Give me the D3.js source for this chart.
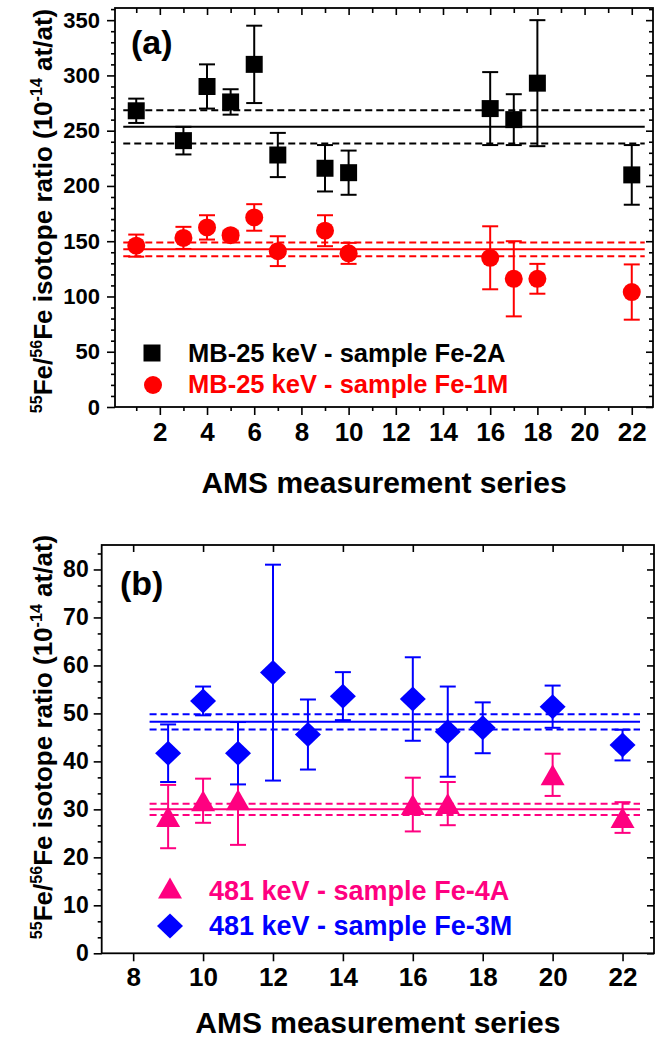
<!DOCTYPE html>
<html><head><meta charset="utf-8">
<script src="https://cdn.jsdelivr.net/npm/d3@7"></script>
<style>
body{margin:0;background:#fff}
svg{display:block}
text{font-family:"Liberation Sans",Arial,sans-serif;font-weight:bold}
</style>
</head><body>
<script>
// ---------- Data: panel (a) ----------
const seriesXA = [1,3,4,5,6,7,9,10,16,17,18,22];
const fe2A     = [268,241,290,276,310,228,216,212,270,260,293,210];
const fe2AErr  = [11,12.5,20,11.5,35,20,21,20,33,23,57,27];
const fe1M     = [146,153,162.5,155.5,171.5,141,159.5,139,135,116,116,104];
const fe1MErr  = [10,10,11,4,12,13.5,14,9.5,28.5,34,13.5,25];
const meanFe2A = [253.5, 15];     // mean, +/- band
const meanFe1M = [142.7, 6.2];
const meanSpanA = [0.45, 22.55];
const xTicksA = [2,4,6,8,10,12,14,16,18,20,22];
const yTicksA = [0,50,100,150,200,250,300,350];

// ---------- Data: panel (b) ----------
const seriesX3M = [9,10,11,12,13,14,16,17,18,20,22];
const fe3M      = [41.7,52.6,41.7,58.5,45.6,53.6,53,46.2,47,51.4,43.4];
const fe3MErr   = [6,3,6.5,22.5,7.3,5,8.7,9.4,5.3,4.4,3.2];
const seriesX4A = [9,10,11,16,17,20,22];
const fe4A      = [28.5,31.8,32,31,31.2,37.2,28.3];
const fe4AErr   = [6.6,4.6,9.4,5.6,4.5,4.4,3.2];
const meanFe3M = [48.25, 1.6];
const meanFe4A = [30.0, 1.15];
const meanSpanB = [8.47, 22.5];
const xTicksB = [8,10,12,14,16,18,20,22];
const yTicksB = [0,10,20,30,40,50,60,70,80];

const W = 662, H = 1046;
const svg = d3.select("body").append("svg").attr("width", W).attr("height", H);

const BLACK="#000000", RED="#ff0000", PINK="#ff0080", BLUE="#0000ff";

function drawFrame(g, x0, x1, y0, y1){
  g.append("rect").attr("x",x0).attr("y",y0).attr("width",x1-x0).attr("height",y1-y0)
   .attr("fill","none").attr("stroke","#000").attr("stroke-width",1.8);
}
function styleAxis(sel, fs){
  sel.select(".domain").remove();
  sel.selectAll("line").attr("stroke","#000").attr("stroke-width",1.6);
  sel.attr("font-family",'"Liberation Sans",Arial,sans-serif').attr("font-size",fs).attr("font-weight","bold");
}
function yTitle(g, x, y, fs){
  const t = g.append("text").attr("transform",`translate(${x},${y}) rotate(-90)`)
    .attr("text-anchor","middle").attr("font-size",fs).attr("fill","#000");
  const s = fs*0.62, d = fs*0.4;
  t.append("tspan").attr("font-size",s).attr("dy",-d).text("55");
  t.append("tspan").attr("dy",d).text("Fe/");
  t.append("tspan").attr("font-size",s).attr("dy",-d).text("56");
  t.append("tspan").attr("dy",d).text("Fe isotope ratio (10");
  t.append("tspan").attr("font-size",s).attr("dy",-d).text("-14");
  t.append("tspan").attr("dy",d).text(" at/at)");
}
function meanLines(g, x, y, span, m, color){
  const [mu, sd] = m;
  [[mu,null],[mu+sd,"7,4"],[mu-sd,"7,4"]].forEach(([v,dash])=>{
    g.append("line").attr("x1",x(span[0])).attr("x2",x(span[1]))
      .attr("y1",y(v)).attr("y2",y(v)).attr("stroke",color).attr("stroke-width",2)
      .attr("stroke-dasharray",dash);
  });
}
function errorBars(g, x, y, xs, vals, errs, color){
  const cap = 8;
  xs.forEach((xv,i)=>{
    const cx = x(xv), yt = y(vals[i]+errs[i]), yb = y(vals[i]-errs[i]);
    g.append("line").attr("x1",cx).attr("x2",cx).attr("y1",yt).attr("y2",yb).attr("stroke",color).attr("stroke-width",2);
    g.append("line").attr("x1",cx-cap).attr("x2",cx+cap).attr("y1",yt).attr("y2",yt).attr("stroke",color).attr("stroke-width",2);
    g.append("line").attr("x1",cx-cap).attr("x2",cx+cap).attr("y1",yb).attr("y2",yb).attr("stroke",color).attr("stroke-width",2);
  });
}
const SHAPES = {
  square: "M-8.5,-8.5H8.5V8.5H-8.5Z",
  circle: "M9,0A9,9 0 1,1 -9,0A9,9 0 1,1 9,0Z",
  triangle: "M0,-10.5L12,10.5L-12,10.5Z",
  diamond: "M0,-12.5L13,0L0,12.5L-13,0Z"
};
function markers(g, x, y, xs, vals, shape, color){
  g.selectAll(null).data(xs.map((xv,i)=>[xv,vals[i]])).enter().append("path")
    .attr("d",SHAPES[shape]).attr("fill",color)
    .attr("transform",d=>`translate(${x(d[0])},${y(d[1])})`);
}

// ================= Panel (a) =================
{
  const L=115, R=653, T=8, B=407;
  const x = d3.scaleLinear().domain([0.1,22.9]).range([L,R]);
  const y = d3.scaleLinear().domain([0,361]).range([B,T]);
  const g = svg.append("g");
  const allInts = d3.range(1,23);
  const odd = allInts.filter(v=>v%2===1);
  const minorY = d3.range(10,361,10).filter(v=>v%50!==0);

  g.append("g").attr("transform",`translate(0,${B})`)
    .call(d3.axisBottom(x).tickValues(xTicksA).tickSize(8).tickSizeOuter(0).tickPadding(8))
    .call(s=>styleAxis(s,26));
  g.append("g").attr("transform",`translate(0,${B})`)
    .call(d3.axisBottom(x).tickValues(odd).tickSize(4).tickSizeOuter(0).tickFormat(""))
    .call(s=>styleAxis(s,26));
  g.append("g").attr("transform",`translate(0,${T})`)
    .call(d3.axisBottom(x).tickValues(xTicksA).tickSize(7).tickSizeOuter(0).tickFormat(""))
    .call(s=>styleAxis(s,10));
  g.append("g").attr("transform",`translate(0,${T})`)
    .call(d3.axisBottom(x).tickValues(odd).tickSize(5).tickSizeOuter(0).tickFormat(""))
    .call(s=>styleAxis(s,10));
  g.append("g").attr("transform",`translate(${L},0)`)
    .call(d3.axisLeft(y).tickValues(yTicksA).tickSize(8).tickSizeOuter(0).tickPadding(7))
    .call(s=>styleAxis(s,22));
  g.append("g").attr("transform",`translate(${L},0)`)
    .call(d3.axisLeft(y).tickValues(minorY).tickSize(4).tickSizeOuter(0).tickFormat(""))
    .call(s=>styleAxis(s,10));
  g.append("g").attr("transform",`translate(${R},0)`)
    .call(d3.axisLeft(y).tickValues(yTicksA).tickSize(7).tickSizeOuter(0).tickFormat(""))
    .call(s=>styleAxis(s,10));
  g.append("g").attr("transform",`translate(${R},0)`)
    .call(d3.axisLeft(y).tickValues(minorY).tickSize(4).tickSizeOuter(0).tickFormat(""))
    .call(s=>styleAxis(s,10));
  drawFrame(g,L,R,T,B);

  meanLines(g,x,y,meanSpanA,meanFe2A,BLACK);
  meanLines(g,x,y,meanSpanA,meanFe1M,RED);
  errorBars(g,x,y,seriesXA,fe2A,fe2AErr,BLACK);
  errorBars(g,x,y,seriesXA,fe1M,fe1MErr,RED);
  markers(g,x,y,seriesXA,fe2A,"square",BLACK);
  markers(g,x,y,seriesXA,fe1M,"circle",RED);

  g.append("text").attr("x",131).attr("y",54).attr("font-size",34).text("(a)");
  // legend
  g.append("path").attr("d",SHAPES.square).attr("fill",BLACK).attr("transform","translate(152,353)");
  g.append("text").attr("x",188).attr("y",361.5).attr("font-size",25.5).attr("fill",BLACK).text("MB-25 keV - sample Fe-2A");
  g.append("path").attr("d",SHAPES.circle).attr("fill",RED).attr("transform","translate(153,385)");
  g.append("text").attr("x",188).attr("y",393).attr("font-size",25.5).attr("fill",RED).text("MB-25 keV - sample Fe-1M");

  g.append("text").attr("x",(L+R)/2).attr("y",493).attr("text-anchor","middle").attr("font-size",30).text("AMS measurement series");
  yTitle(g,52,211,26);
}

// ================= Panel (b) =================
{
  const L=101.7, R=654, T=545, B=953.3;
  const x = d3.scaleLinear().domain([7.1,22.9]).range([L,R]);
  const y = d3.scaleLinear().domain([0,85.1]).range([B,T]);
  const g = svg.append("g");
  const minorY = d3.range(0,85,10/3).filter((v,i)=>i%3!==0);

  g.append("g").attr("transform",`translate(0,${B})`)
    .call(d3.axisBottom(x).tickValues(xTicksB).tickSize(8).tickSizeOuter(0).tickPadding(6))
    .call(s=>styleAxis(s,26));
  g.append("g").attr("transform",`translate(0,${T})`)
    .call(d3.axisBottom(x).tickValues(xTicksB).tickSize(7).tickSizeOuter(0).tickFormat(""))
    .call(s=>styleAxis(s,10));
  g.append("g").attr("transform",`translate(${L},0)`)
    .call(d3.axisLeft(y).tickValues(yTicksB).tickSize(8).tickSizeOuter(0).tickPadding(5))
    .call(s=>styleAxis(s,23));
  g.append("g").attr("transform",`translate(${L},0)`)
    .call(d3.axisLeft(y).tickValues(minorY).tickSize(4).tickSizeOuter(0).tickFormat(""))
    .call(s=>styleAxis(s,10));
  g.append("g").attr("transform",`translate(${R},0)`)
    .call(d3.axisLeft(y).tickValues(yTicksB).tickSize(7).tickSizeOuter(0).tickFormat(""))
    .call(s=>styleAxis(s,10));
  g.append("g").attr("transform",`translate(${R},0)`)
    .call(d3.axisLeft(y).tickValues(minorY).tickSize(4).tickSizeOuter(0).tickFormat(""))
    .call(s=>styleAxis(s,10));
  drawFrame(g,L,R,T,B);

  meanLines(g,x,y,meanSpanB,meanFe3M,BLUE);
  meanLines(g,x,y,meanSpanB,meanFe4A,PINK);
  errorBars(g,x,y,seriesX4A,fe4A,fe4AErr,PINK);
  errorBars(g,x,y,seriesX3M,fe3M,fe3MErr,BLUE);
  markers(g,x,y,seriesX4A,fe4A,"triangle",PINK);
  markers(g,x,y,seriesX3M,fe3M,"diamond",BLUE);

  g.append("text").attr("x",120).attr("y",595).attr("font-size",34).text("(b)");
  g.append("path").attr("d",SHAPES.triangle).attr("fill",PINK).attr("transform","translate(170,888)");
  g.append("text").attr("x",209).attr("y",900).attr("font-size",27).attr("fill",PINK).text("481 keV - sample Fe-4A");
  g.append("path").attr("d",SHAPES.diamond).attr("fill",BLUE).attr("transform","translate(170,926)");
  g.append("text").attr("x",209).attr("y",935).attr("font-size",27).attr("fill",BLUE).text("481 keV - sample Fe-3M");

  g.append("text").attr("x",(L+R)/2).attr("y",1033).attr("text-anchor","middle").attr("font-size",30).text("AMS measurement series");
  yTitle(g,52,737,26);
}
</script>
</body></html>
